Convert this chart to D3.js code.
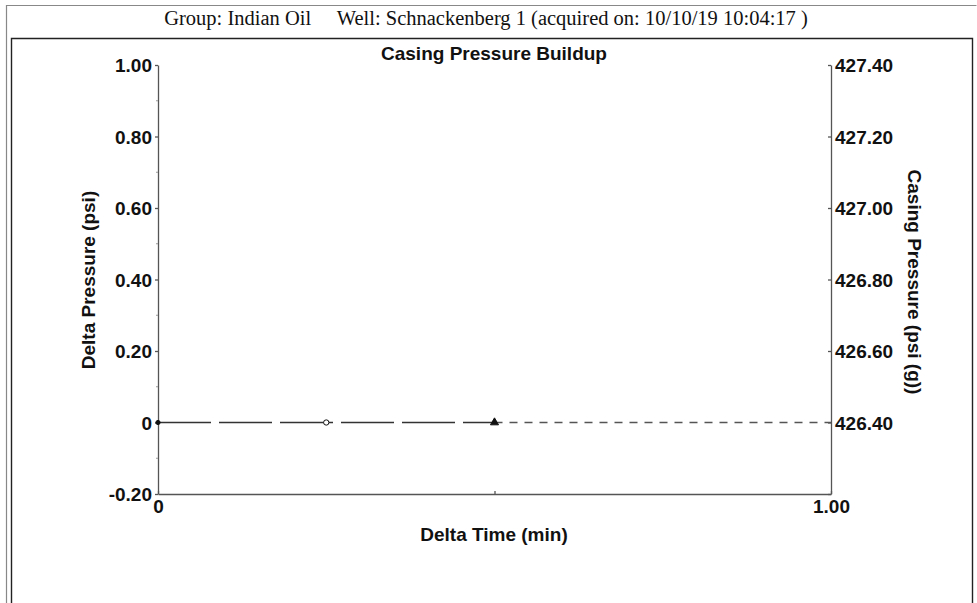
<!DOCTYPE html>
<html><head><meta charset="utf-8">
<script src="https://cdn.jsdelivr.net/npm/d3@7/dist/d3.min.js"></script>
<style>html,body{margin:0;padding:0;background:#fff;}svg{display:block;}</style>
</head><body>
<svg id="c" width="977" height="603"></svg>
<script>
// ---- data ----
const headerText = "Group: Indian Oil\u00A0\u00A0\u00A0\u00A0\u00A0Well: Schnackenberg 1 (acquired on: 10/10/19 10:04:17 )";
const chartTitle = "Casing Pressure Buildup";
const xLabel = "Delta Time (min)";
const yLeftLabel = "Delta Pressure (psi)";
const yRightLabel = "Casing Pressure (psi (g))";
const xDomain = [0, 1];
const yLeftDomain = [-0.2, 1.0];
const yRightDomain = [426.2, 427.4];
const xTicks = [0, 0.5, 1.0];
const xTickLabels = ["0", "", "1.00"];
const yLeftTicks = [-0.2, 0, 0.2, 0.4, 0.6, 0.8, 1.0];
const yLeftTickLabels = ["-0.20", "0", "0.20", "0.40", "0.60", "0.80", "1.00"];
const yRightTicks = [426.2, 426.4, 426.6, 426.8, 427.0, 427.2, 427.4];
const yRightTickLabels = ["", "426.40", "426.60", "426.80", "427.00", "427.20", "427.40"];
const measTime = [0, 0.25, 0.5];
const measDelta = [0, 0, 0];
const measMarker = ["dot", "circle", "triangle"];
const projTime = [0.5, 1.0];
const projDelta = [0, 0];

// ---- drawing ----
const svg = d3.select("#c");
const L = 158, R = 831, T = 65, B = 494;
const x = d3.scaleLinear().domain(xDomain).range([L, R]);
const yl = d3.scaleLinear().domain(yLeftDomain).range([B, T]);
const yr = d3.scaleLinear().domain(yRightDomain).range([B, T]);
const axisCol = "#555";
const sans = "'Liberation Sans', Arial, sans-serif";

// frames
svg.append("path").attr("d", "M6.5,603 V5.5 H976.5").attr("fill", "none").attr("stroke", "#888").attr("stroke-width", 1.2);
svg.append("path").attr("d", "M11.5,603 V38.5 H972.5 V603").attr("fill", "none").attr("stroke", "#222").attr("stroke-width", 1.4);

svg.append("text").attr("x", 486).attr("y", 25).attr("text-anchor", "middle")
  .attr("font-family", "'Liberation Serif', 'Times New Roman', serif").attr("font-size", 20.5).attr("fill", "#111")
  .text(headerText);

svg.append("text").attr("x", 494).attr("y", 60).attr("text-anchor", "middle")
  .attr("font-family", sans).attr("font-weight", "bold").attr("font-size", 19).attr("fill", "#111")
  .text(chartTitle);

function styleAxis(g) {
  g.selectAll("path,line").attr("stroke", axisCol).attr("stroke-width", 1.3);
  g.selectAll("text").attr("font-family", sans).attr("font-weight", "bold").attr("font-size", 19).attr("fill", "#111");
}

// left axis
const gl = svg.append("g").attr("transform", `translate(${L},0)`)
  .call(d3.axisLeft(yl).tickValues(yLeftTicks).tickSize(3).tickSizeOuter(0).tickPadding(3)
    .tickFormat((d, i) => yLeftTickLabels[i]));
styleAxis(gl);
gl.selectAll(".tick text").attr("dy", "0.36em");
// minor ticks on left axis
const minorY = d3.range(-0.1, 1.0, 0.2);
svg.append("g").selectAll("line").data(minorY).join("line")
  .attr("x1", L - 2).attr("x2", L).attr("y1", d => yl(d)).attr("y2", d => yl(d))
  .attr("stroke", "#999").attr("stroke-width", 1);

// right axis
const gr = svg.append("g").attr("transform", `translate(${R},0)`)
  .call(d3.axisRight(yr).tickValues(yRightTicks).tickSize(-3).tickSizeOuter(0).tickPadding(5)
    .tickFormat((d, i) => yRightTickLabels[i]));
styleAxis(gr);
gr.selectAll(".tick text").attr("x", 4).attr("dy", "0.36em");

// bottom axis
const gb = svg.append("g").attr("transform", `translate(0,${B})`)
  .call(d3.axisBottom(x).tickValues(xTicks).tickSize(-3).tickSizeOuter(0).tickPadding(4)
    .tickFormat((d, i) => xTickLabels[i]));
styleAxis(gb);
gb.selectAll(".tick text").attr("y", 6).attr("dy", "0.71em");

// axis titles
svg.append("text").attr("x", 494).attr("y", 541).attr("text-anchor", "middle")
  .attr("font-family", sans).attr("font-weight", "bold").attr("font-size", 19).attr("fill", "#111")
  .text(xLabel);
svg.append("text").attr("transform", "translate(95,280) rotate(-90)").attr("text-anchor", "middle")
  .attr("font-family", sans).attr("font-weight", "bold").attr("font-size", 19).attr("fill", "#111")
  .text(yLeftLabel);
svg.append("text").attr("transform", "translate(908,282) rotate(90)").attr("text-anchor", "middle")
  .attr("font-family", sans).attr("font-weight", "bold").attr("font-size", 19).attr("fill", "#111")
  .text(yRightLabel);

// series
const line = d3.line().x(d => x(d[0])).y(d => yl(d[1]));
svg.append("path").datum(measTime.map((t, i) => [t, measDelta[i]]))
  .attr("d", line).attr("fill", "none").attr("stroke", "#333").attr("stroke-width", 1.4)
  .attr("stroke-dasharray", "53,8");
svg.append("path").datum(projTime.map((t, i) => [t, projDelta[i]]))
  .attr("d", line).attr("fill", "none").attr("stroke", "#555").attr("stroke-width", 1.3)
  .attr("stroke-dasharray", "8,7");

const sym = { dot: d3.symbolCircle, circle: d3.symbolCircle, triangle: d3.symbolTriangle };
const size = { dot: 14, circle: 22, triangle: 28 };
svg.append("g").selectAll("path").data(measTime.map((t, i) => ({ t, v: measDelta[i], m: measMarker[i] })))
  .join("path")
  .attr("transform", d => `translate(${x(d.t)},${yl(d.v)})`)
  .attr("d", d => d3.symbol().type(sym[d.m]).size(size[d.m])())
  .attr("fill", d => d.m === "circle" ? "#fff" : "#111")
  .attr("stroke", "#111").attr("stroke-width", 1);
</script>
</body></html>
